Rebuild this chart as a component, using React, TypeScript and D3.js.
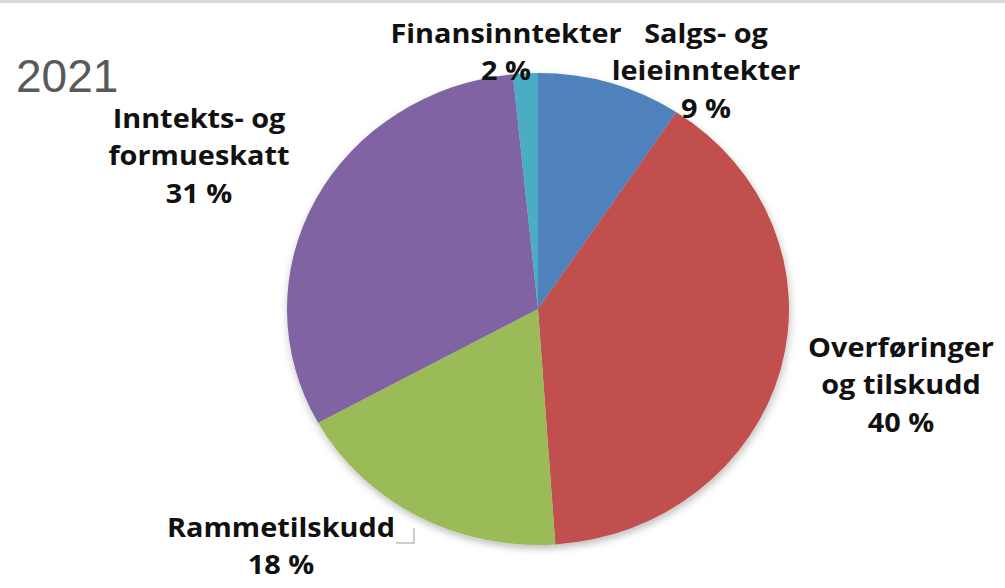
import React from "react";
import * as d3 from "d3";

const categories = ["Salgs- og leieinntekter", "Overføringer og tilskudd", "Rammetilskudd", "Inntekts- og formueskatt", "Finansinntekter"];
const values = [9.3, 39.6, 18.1, 31.4, 1.6];
const colors = ["#4F81BD", "#C0504D", "#9BBB59", "#8064A2", "#4BACC6"];
const labelLines = [["Salgs- og", "leieinntekter"], ["Overføringer", "og tilskudd"], ["Rammetilskudd"], ["Inntekts- og", "formueskatt"], ["Finansinntekter"]];
const title = "2021";

// layout
const W = 1005, H = 588;
const cx = 538, cy = 309, rx = 251, ry = 236;
const labelPos = [
  { x: 706, y: 43 },
  { x: 901, y: 357 },
  { x: 281, y: 537 },
  { x: 199, y: 128 },
  { x: 506, y: 43 },
];
const lineH = 37.5;

export default function App() {
  const pie = d3.pie<number>().sort(null).value((d) => d)(values);
  const arc = d3.arc<d3.PieArcDatum<number>>().innerRadius(0).outerRadius(rx);
  return (
    <svg width={W} height={H} style={{ position: "absolute", left: 0, top: 0, background: "#fff" }}>
      <defs>
        <filter id="sh" x="-10%" y="-10%" width="120%" height="125%">
          <feDropShadow dx="1" dy="4" stdDeviation="4" floodColor="#000" floodOpacity="0.25" />
        </filter>
      </defs>
      <rect x={0} y={0} width={W} height={3} fill="#d9d9d9" />
      <text x={16} y={92} fontFamily="'Liberation Sans', Arial, sans-serif" fontSize={46} fill="#595959">{title}</text>
      <g transform={`translate(${cx},${cy}) scale(1,${ry / rx})`} filter="url(#sh)">
        {pie.map((p, i) => (
          <path key={categories[i]} d={arc(p) || ""} fill={colors[i]} />
        ))}
      </g>
      <polyline points="396,543 414,543 414,528" fill="none" stroke="#bfbfbf" strokeWidth={1.5} />
      {pie.map((p, i) => {
        const lines = [...labelLines[i], `${Math.round(values[i])} %`];
        const lp = labelPos[i];
        return (
          <g key={"l" + i} transform={`translate(${lp.x},${lp.y}) scale(1.11,1)`}>
            <text textAnchor="middle" fontFamily="'Open Sans', sans-serif" fontWeight="bold" fontSize={26} fill="#111">
              {lines.map((t, j) => (
                <tspan key={j} x={0} y={j * lineH}>{t}</tspan>
              ))}
            </text>
          </g>
        );
      })}
    </svg>
  );
}
